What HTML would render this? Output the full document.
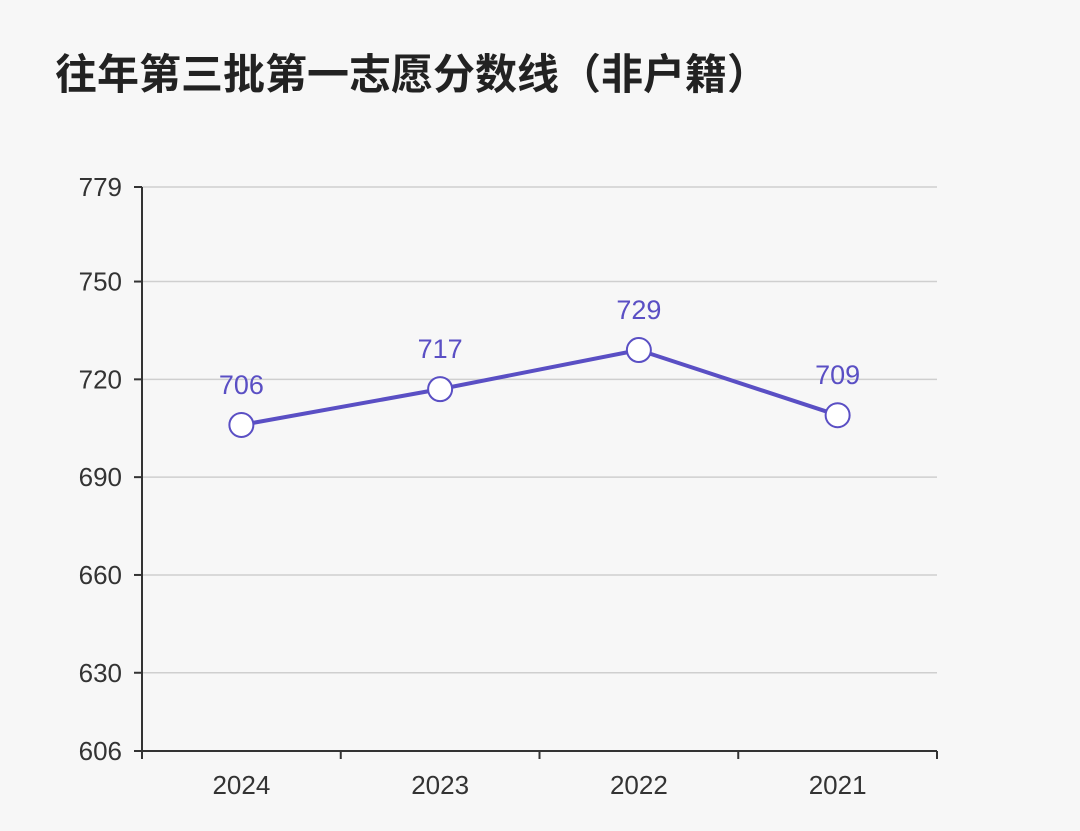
<!DOCTYPE html>
<html><head><meta charset="utf-8"><style>
body{margin:0;background:#f7f7f7;width:1080px;height:826px;overflow:hidden;font-family:"Liberation Sans","Noto Sans CJK SC",sans-serif}
</style></head><body>
<svg width="1080" height="826" xmlns="http://www.w3.org/2000/svg">
<text x="55" y="89" font-size="42" font-weight="bold" fill="#222" font-family="Liberation Sans, Noto Sans CJK SC, sans-serif">往年第三批第一志愿分数线（非户籍）</text>
<g id="grid"></g><g id="axes"></g><g id="series"></g>
</svg>
<script>
const categories=["2024","2023","2022","2021"];
const values=[706,717,729,709];
const yTicks=[606,630,660,690,720,750,779];
const ns="http://www.w3.org/2000/svg";
const x0=142,x1=937,yMin=606,yMax=779,yB=751,yT=187;
const band=(x1-x0)/categories.length;
const xs=i=>x0+band*(i+0.5);
const ys=v=>yB-(v-yMin)/(yMax-yMin)*(yB-yT);
function mk(t,a,p){const e=document.createElementNS(ns,t);for(const k in a)e.setAttribute(k,a[k]);p.appendChild(e);return e;}
const grid=document.getElementById('grid'),axes=document.getElementById('axes'),ser=document.getElementById('series');
yTicks.forEach(v=>{
 const y=ys(v);
 if(v!==yMin){const g=mk('line',{x1:x0,x2:x1,y1:y,y2:y,stroke:'#cfcfcf','stroke-width':1.5},grid);
 
 }
 const t=mk('line',{x1:x0-8,x2:x0,y1:y,y2:y,stroke:'#333','stroke-width':2},axes);
 
 
 const l=mk('text',{x:x0-20,y:y+9,'text-anchor':'end','font-size':26,fill:'#333'},axes);
 l.textContent=v;
 
 
});
const ya=mk('line',{x1:x0,x2:x0,y1:yT,y2:yB,stroke:'#333','stroke-width':2},axes);


const xa=mk('line',{x1:x0,x2:x1,y1:yB,y2:yB,stroke:'#333','stroke-width':2},axes);


for(let i=0;i<=categories.length;i++){const x=x0+band*i;
 const t=mk('line',{x1:x,x2:x,y1:yB,y2:yB+8,stroke:'#333','stroke-width':2},axes);
 
 }
categories.forEach((c,i)=>{
 const l=mk('text',{x:xs(i),y:yB+43,'text-anchor':'middle','font-size':26,fill:'#333'},axes);
 l.textContent=c;
 
 
});
const pl=mk('polyline',{points:values.map((v,i)=>xs(i)+','+ys(v)).join(' '),fill:'none',stroke:'#5a4fc4','stroke-width':4},ser);


values.forEach((v,i)=>{
 const c=mk('circle',{cx:xs(i),cy:ys(v),r:12,fill:'#fff',stroke:'#5a4fc4','stroke-width':2},ser);
 
 
 const t=mk('text',{x:xs(i),y:ys(v)-31,'text-anchor':'middle','font-size':27,fill:'#5a4fc4'},ser);
 t.textContent=v;
 
 
});
</script>
</body></html>
